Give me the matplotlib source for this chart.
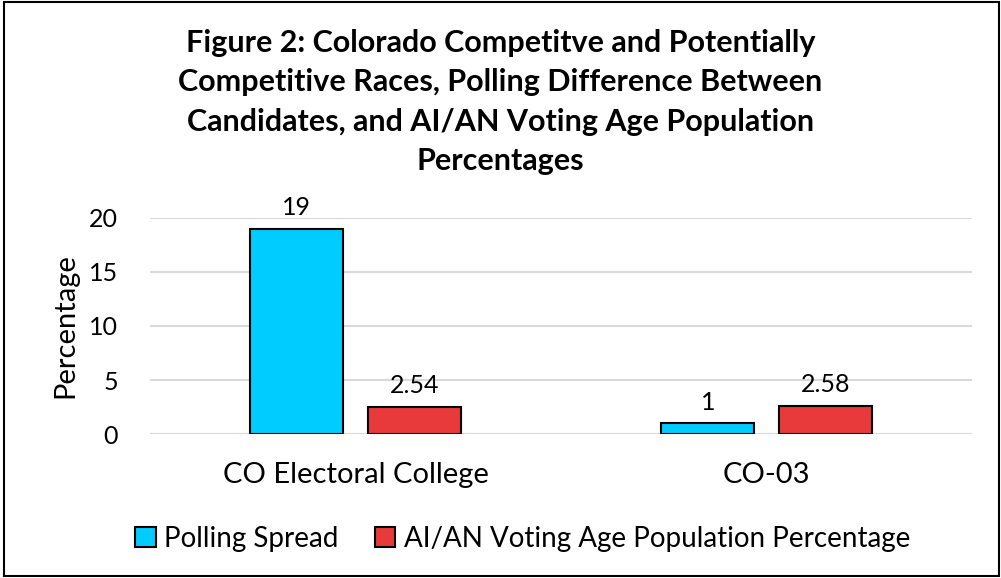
import matplotlib.pyplot as plt
import numpy as np
from matplotlib.patches import Rectangle

categories = ['CO Electoral College', 'CO-03']
polling_spread = [19, 1]
aian_vap = [2.54, 2.58]
series_names = ['Polling Spread', 'AI/AN Voting Age Population Percentage']
colors = ['#00CCFF', '#E83A3A']

plt.rcParams['font.family'] = ['Lato', 'DejaVu Sans']

fig = plt.figure(figsize=(10.01, 5.78), dpi=100)
ax = fig.add_axes([0.15, 0.249, 0.821, 0.374])

x = np.arange(len(categories))
w = 0.226
off = 0.143
b1 = ax.bar(x - off, polling_spread, w, color=colors[0], edgecolor='black', linewidth=1.5, label=series_names[0], zorder=3)
b2 = ax.bar(x + off, aian_vap, w, color=colors[1], edgecolor='black', linewidth=1.5, label=series_names[1], zorder=3)

for bars, vals in [(b1, polling_spread), (b2, aian_vap)]:
    for b, v in zip(bars, vals):
        ax.annotate(f'{v:g}', (b.get_x() + b.get_width() / 2, v), xytext=(0, 7),
                    textcoords='offset points', ha='center', va='bottom', fontsize=18)

ax.set_xlim(-0.5, 1.5)
ax.set_ylim(0, 20)
ax.set_yticks([0, 5, 10, 15, 20])
ax.set_xticks(x)
ax.set_xticklabels(categories, fontsize=21)
ax.tick_params(axis='y', labelsize=18, length=0, pad=23)
ax.tick_params(axis='x', length=0, pad=20)
ax.grid(axis='y', color='#D9D9D9', linewidth=1.5, zorder=0)
for s in ax.spines.values():
    s.set_visible(False)
ax.set_ylabel('Percentage', fontsize=21, labelpad=8)

fig.text(0.5, 0.95, 'Figure 2: Colorado Competitve and Potentially\nCompetitive Races, Polling Difference Between\nCandidates, and AI/AN Voting Age Population\nPercentages',
         ha='center', va='top', fontsize=22, fontweight='bold', linespacing=1.5)

fig.legend(loc='center', bbox_to_anchor=(0.522, 0.068), ncol=2, frameon=False, fontsize=20,
           handlelength=0.75, handleheight=0.75, handletextpad=0.3, columnspacing=1.3)

fig.patches.append(Rectangle((0.004, 0.004), 0.994, 0.992, transform=fig.transFigure,
                             fill=False, edgecolor='black', linewidth=1.5))

fig.savefig('out.png', dpi=100)
